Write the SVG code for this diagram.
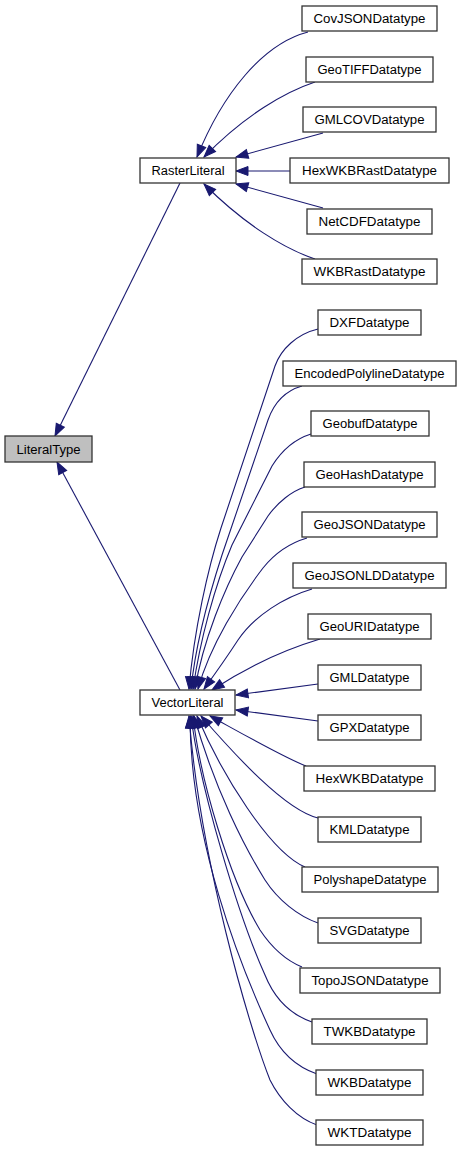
<svg xmlns="http://www.w3.org/2000/svg" width="461" height="1152" viewBox="0 0 461 1152">
<style>
.n rect{fill:#fff;stroke:#333;stroke-width:1.3}
.n text{font-family:"Liberation Sans",Arial,sans-serif;font-size:12.5px;fill:#000;text-anchor:middle}
#LiteralType rect{fill:#bfbfbf}
.e path{fill:none;stroke:#191970;stroke-width:1.1;marker-end:url(#arr)}
</style>
<defs>
<marker id="arr" markerUnits="userSpaceOnUse" markerWidth="14" markerHeight="11" refX="12" refY="5.5" orient="auto" viewBox="0 0 14 11" overflow="visible">
<path d="M0,1 L12,5.5 L0,10 z" fill="#191970" stroke="#191970" stroke-width="1"/>
</marker>
</defs>
<rect width="461" height="1152" fill="#fff"/>
<g class="e" id="connectors">
<path d="M308,32 C262,44 222,95 197,157"/>
<path d="M315,82 C285,92 245,115 204,157"/>
<path d="M323,133 L236,157"/>
<path d="M290,171 L236,171"/>
<path d="M323,208 L236,184"/>
<path d="M315,259 C285,249 245,225 204,184"/>
<path d="M180,183 L55,436"/>
<path d="M180,690 L57,462"/>
<path d="M318,329 C297,334 281,349 275,366 L221,528 C208,568 194,630 189,689"/>
<path d="M302,386 C288,390 275,400 268,420 L222,555 C210,592 196,640 191,689"/>
<path d="M311,434 C295,439 282,450 272,466 L232,545 C215,585 200,640 193,689"/>
<path d="M305,487 C292,491 278,502 268,516 L242,557 C225,588 203,640 195,689"/>
<path d="M307,538 C290,543 275,553 263,568 C240,598 210,645 198,689"/>
<path d="M312,589 C285,597 255,615 238,640 C225,660 212,678 204,689"/>
<path d="M320,639 C290,648 250,665 212,690"/>
<path d="M318,684 L236,695"/>
<path d="M318,721 L236,710"/>
<path d="M306,766 C285,758 250,738 210,716"/>
<path d="M318,818 C285,810 235,755 201,716"/>
<path d="M305,867 C270,852 222,775 197,716"/>
<path d="M318,923 C298,916 278,900 265,880 C245,848 215,790 194,716"/>
<path d="M302,967 C285,960 270,945 260,930 C230,880 200,780 193,716"/>
<path d="M312,1022 C292,1015 275,1000 265,975 C240,920 200,790 191,716"/>
<path d="M317,1074 C297,1067 280,1052 270,1030 C240,965 190,840 190,716"/>
<path d="M317,1125 C297,1118 280,1100 270,1080 C250,1030 200,860 189,716"/>
</g>
<g class="n" id="LiteralType"><rect x="5" y="436" width="87" height="26"/><text x="48.5" y="453.5" textLength="64" lengthAdjust="spacingAndGlyphs">LiteralType</text></g>
<g class="n" id="RasterLiteral"><rect x="140" y="158" width="96" height="25"/><text x="188" y="175" textLength="73" lengthAdjust="spacingAndGlyphs">RasterLiteral</text></g>
<g class="n" id="VectorLiteral"><rect x="140" y="690" width="95" height="25"/><text x="187.5" y="707" textLength="72" lengthAdjust="spacingAndGlyphs">VectorLiteral</text></g>
<g class="n" id="CovJSONDatatype"><rect x="302" y="6" width="135" height="25"/><text x="369.5" y="23" textLength="112" lengthAdjust="spacingAndGlyphs">CovJSONDatatype</text></g>
<g class="n" id="GeoTIFFDatatype"><rect x="306" y="57" width="127" height="25"/><text x="369.5" y="74" textLength="104" lengthAdjust="spacingAndGlyphs">GeoTIFFDatatype</text></g>
<g class="n" id="GMLCOVDatatype"><rect x="303" y="107" width="133" height="25"/><text x="369.5" y="124" textLength="110" lengthAdjust="spacingAndGlyphs">GMLCOVDatatype</text></g>
<g class="n" id="HexWKBRastDatatype"><rect x="290" y="158" width="159" height="25"/><text x="369.5" y="175" textLength="135" lengthAdjust="spacingAndGlyphs">HexWKBRastDatatype</text></g>
<g class="n" id="NetCDFDatatype"><rect x="307" y="209" width="125" height="25"/><text x="369.5" y="226" textLength="102" lengthAdjust="spacingAndGlyphs">NetCDFDatatype</text></g>
<g class="n" id="WKBRastDatatype"><rect x="302" y="259" width="135" height="25"/><text x="369.5" y="276" textLength="112" lengthAdjust="spacingAndGlyphs">WKBRastDatatype</text></g>
<g class="n" id="DXFDatatype"><rect x="318" y="310" width="103" height="25"/><text x="369.5" y="327" textLength="80" lengthAdjust="spacingAndGlyphs">DXFDatatype</text></g>
<g class="n" id="EncodedPolylineDatatype"><rect x="283" y="361" width="173" height="25"/><text x="369.5" y="378" textLength="150" lengthAdjust="spacingAndGlyphs">EncodedPolylineDatatype</text></g>
<g class="n" id="GeobufDatatype"><rect x="311" y="411" width="118" height="25"/><text x="370" y="428" textLength="95" lengthAdjust="spacingAndGlyphs">GeobufDatatype</text></g>
<g class="n" id="GeoHashDatatype"><rect x="304" y="462" width="131" height="25"/><text x="369.5" y="479" textLength="108" lengthAdjust="spacingAndGlyphs">GeoHashDatatype</text></g>
<g class="n" id="GeoJSONDatatype"><rect x="302" y="512" width="135" height="25"/><text x="369.5" y="529" textLength="112" lengthAdjust="spacingAndGlyphs">GeoJSONDatatype</text></g>
<g class="n" id="GeoJSONLDDatatype"><rect x="293" y="563" width="153" height="25"/><text x="369.5" y="580" textLength="130" lengthAdjust="spacingAndGlyphs">GeoJSONLDDatatype</text></g>
<g class="n" id="GeoURIDatatype"><rect x="308" y="614" width="123" height="25"/><text x="369.5" y="631" textLength="100" lengthAdjust="spacingAndGlyphs">GeoURIDatatype</text></g>
<g class="n" id="GMLDatatype"><rect x="318" y="665" width="103" height="25"/><text x="369.5" y="682" textLength="80" lengthAdjust="spacingAndGlyphs">GMLDatatype</text></g>
<g class="n" id="GPXDatatype"><rect x="318" y="715" width="103" height="25"/><text x="369.5" y="732" textLength="80" lengthAdjust="spacingAndGlyphs">GPXDatatype</text></g>
<g class="n" id="HexWKBDatatype"><rect x="304" y="766" width="131" height="25"/><text x="369.5" y="783" textLength="108" lengthAdjust="spacingAndGlyphs">HexWKBDatatype</text></g>
<g class="n" id="KMLDatatype"><rect x="318" y="817" width="103" height="25"/><text x="369.5" y="834" textLength="80" lengthAdjust="spacingAndGlyphs">KMLDatatype</text></g>
<g class="n" id="PolyshapeDatatype"><rect x="302" y="867" width="136" height="25"/><text x="370" y="884" textLength="113" lengthAdjust="spacingAndGlyphs">PolyshapeDatatype</text></g>
<g class="n" id="SVGDatatype"><rect x="318" y="918" width="103" height="25"/><text x="369.5" y="935" textLength="80" lengthAdjust="spacingAndGlyphs">SVGDatatype</text></g>
<g class="n" id="TopoJSONDatatype"><rect x="300" y="968" width="140" height="25"/><text x="370" y="985" textLength="117" lengthAdjust="spacingAndGlyphs">TopoJSONDatatype</text></g>
<g class="n" id="TWKBDatatype"><rect x="312" y="1019" width="115" height="25"/><text x="369.5" y="1036" textLength="92" lengthAdjust="spacingAndGlyphs">TWKBDatatype</text></g>
<g class="n" id="WKBDatatype"><rect x="316" y="1070" width="107" height="25"/><text x="369.5" y="1087" textLength="84" lengthAdjust="spacingAndGlyphs">WKBDatatype</text></g>
<g class="n" id="WKTDatatype"><rect x="316" y="1120" width="107" height="25"/><text x="369.5" y="1137" textLength="84" lengthAdjust="spacingAndGlyphs">WKTDatatype</text></g>
</svg>
